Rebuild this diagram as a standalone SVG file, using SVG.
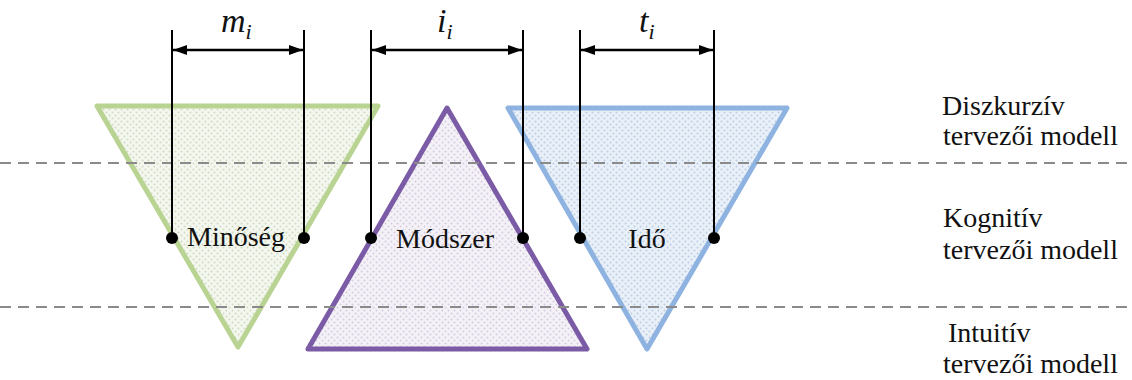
<svg xmlns="http://www.w3.org/2000/svg" width="1132" height="380" viewBox="0 0 1132 380">
<style>
.lbl{font-family:'Liberation Serif','Times New Roman',serif;font-size:28px;fill:#111}
.var{font-family:'Liberation Serif','Times New Roman',serif;font-style:italic;font-size:34px;fill:#111}
.sub{font-size:22px}
.dash{stroke:#8a8a8a;stroke-width:2;stroke-dasharray:11 7;fill:none}
.ext{stroke:#000;stroke-width:2;fill:none}
.dim{stroke:#000;stroke-width:2.5;fill:none;marker-start:url(#ah);marker-end:url(#ah)}
.tri{stroke-width:5;stroke-linejoin:round}
</style>
<defs>
<marker id="ah" viewBox="0 0 14 10" refX="14" refY="5" markerWidth="14" markerHeight="10" markerUnits="userSpaceOnUse" orient="auto-start-reverse">
<path d="M0,0 L14,5 L0,10 Z" fill="#000"/>
</marker>
<pattern id="pg" width="6" height="6" patternUnits="userSpaceOnUse">
<rect width="6" height="6" fill="#f4f7ef"/>
<circle cx="1.5" cy="1.5" r="1" fill="#d0dcbf"/>
<circle cx="4.5" cy="4.5" r="1" fill="#d0dcbf"/>
</pattern>
<pattern id="pp" width="6" height="6" patternUnits="userSpaceOnUse">
<rect width="6" height="6" fill="#f4f1f7"/>
<circle cx="1.5" cy="1.5" r="1" fill="#d5cce1"/>
<circle cx="4.5" cy="4.5" r="1" fill="#d5cce1"/>
</pattern>
<pattern id="pb" width="6" height="6" patternUnits="userSpaceOnUse">
<rect width="6" height="6" fill="#eaf0f8"/>
<circle cx="1.5" cy="1.5" r="1" fill="#bccee6"/>
<circle cx="4.5" cy="4.5" r="1" fill="#bccee6"/>
</pattern>
</defs>
<rect width="1132" height="380" fill="#fff"/>

<g id="minoseg">
<polygon class="tri" points="97,106 378,106 238,347" fill="url(#pg)" stroke="#b9d392"/>
<text class="lbl" x="236" y="246" text-anchor="middle">Minőség</text>
</g>
<g id="modszer">
<polygon class="tri" points="447,108 587,349 308,349" fill="url(#pp)" stroke="#7c5ba6"/>
<text class="lbl" x="445" y="248" text-anchor="middle">Módszer</text>
</g>
<g id="ido">
<polygon class="tri" points="508,108 787,108 647,349" fill="url(#pb)" stroke="#8fb3e0"/>
<text class="lbl" x="647" y="248" text-anchor="middle">Idő</text>
</g>

<g id="levels">
<line class="dash" x1="0" y1="163" x2="1132" y2="163"/>
<line class="dash" x1="0" y1="307" x2="1132" y2="307"/>
<text class="lbl" x="942" y="115">Diszkurzív</text>
<text class="lbl" x="943" y="145">tervezői modell</text>
<text class="lbl" x="943" y="227">Kognitív</text>
<text class="lbl" x="943" y="259">tervezői modell</text>
<text class="lbl" x="948" y="342">Intuitív</text>
<text class="lbl" x="943" y="373">tervezői modell</text>
</g>

<g id="connectors">
<line class="ext" x1="172" y1="30" x2="172" y2="238"/>
<line class="ext" x1="304" y1="30" x2="304" y2="238"/>
<line class="ext" x1="371" y1="30" x2="371" y2="238"/>
<line class="ext" x1="523" y1="30" x2="523" y2="238"/>
<line class="ext" x1="580" y1="30" x2="580" y2="238"/>
<line class="ext" x1="714" y1="30" x2="714" y2="238"/>
<line class="dim" x1="173" y1="50" x2="303" y2="50"/>
<line class="dim" x1="372" y1="50" x2="522" y2="50"/>
<line class="dim" x1="581" y1="50" x2="713" y2="50"/>
<g fill="#000">
<circle cx="172" cy="238" r="6"/>
<circle cx="304" cy="238" r="6"/>
<circle cx="371" cy="238" r="6"/>
<circle cx="523" cy="238" r="6"/>
<circle cx="580" cy="238" r="6"/>
<circle cx="714" cy="238" r="6"/>
</g>
</g>

<g id="dimension-labels">
<text class="var" x="221" y="32">m<tspan class="sub" dy="7">i</tspan></text>
<text class="var" x="437" y="32">i<tspan class="sub" dy="7">i</tspan></text>
<text class="var" x="639" y="32">t<tspan class="sub" dy="7">i</tspan></text>
</g>
</svg>
